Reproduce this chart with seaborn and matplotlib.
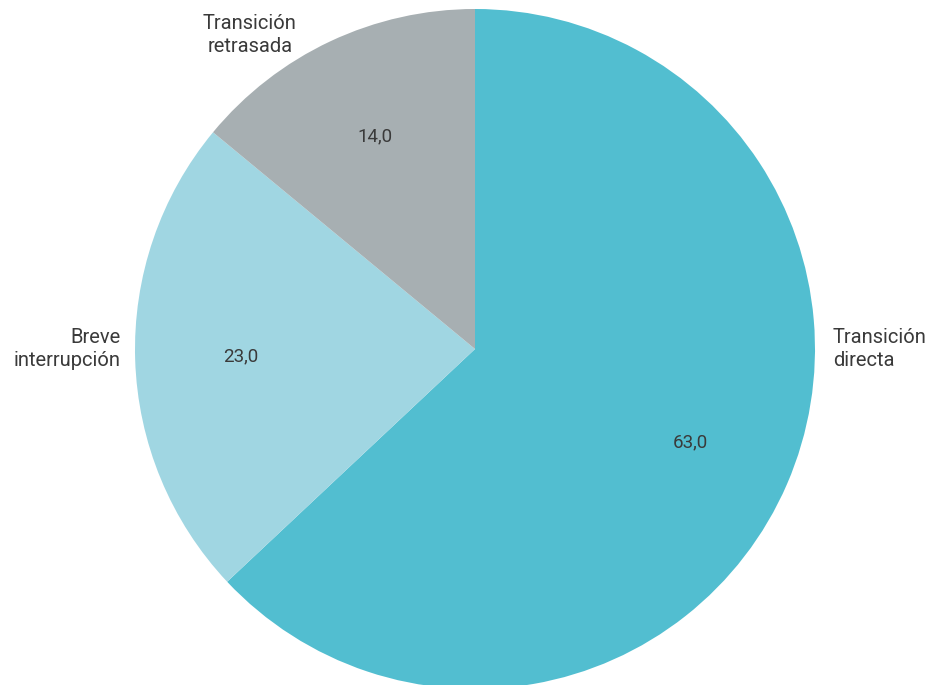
import seaborn as sns
import matplotlib
matplotlib.use('Agg')
import matplotlib.pyplot as plt

# data
categories = ['Transición\ndirecta', 'Breve\ninterrupción', 'Transición\nretrasada']
values = [63.0, 23.0, 14.0]
colors = ['#52BED0', '#A0D6E2', '#A7AFB2']

sns.set_theme(style='white')
plt.rcParams['font.family'] = ['Roboto', 'DejaVu Sans']

W, H = 932, 685
cx, cy, R = 475, 349, 340  # pie centre / radius in pixels

fig = plt.figure(figsize=(W / 100, H / 100), dpi=100)
ax = fig.add_axes([0, 0, 1, 1])

# pie as percentage labels with comma decimal
total = sum(values)
wedges, texts, autotexts = ax.pie(
    values, colors=colors, startangle=90, counterclock=False,
    autopct=lambda p: f'{p * total / 100:.1f}'.replace('.', ','),
    pctdistance=0.69, radius=1, wedgeprops=dict(linewidth=0),
    textprops=dict(fontsize=13.5, color='#3a3a3a'))

# map data units to pixels so the pie lands where it does in the reference
ax.set_xlim(-cx / R, (W - cx) / R)
ax.set_ylim(-(H - cy) / R, cy / R)
ax.set_aspect('auto')
ax.axis('off')

# category labels placed outside the wedges
label_pos = [((833 - cx) / R, 0.0, 'left'),
             ((121 - cx) / R, 0.0, 'right'),
             ((250 - cx) / R, (cy - 35) / R, 'center')]
for name, (x, y, ha) in zip(categories, label_pos):
    ax.text(x, y, name, ha=ha, va='center', fontsize=14.5,
            color='#3a3a3a', linespacing=1.3)

fig.savefig('out.png', dpi=100)
